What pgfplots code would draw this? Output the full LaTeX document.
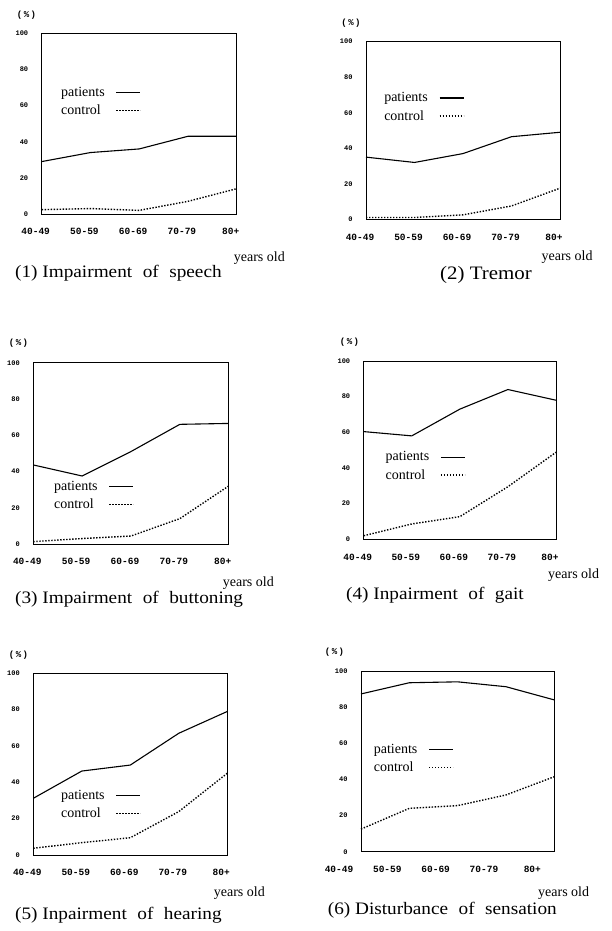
\documentclass[border=0pt]{standalone}
\usepackage{fontspec}
\setmainfont{Liberation Serif}
\newfontfamily\tickfont{Liberation Mono}
\newfontfamily\titlefont[FakeStretch=1.1]{Liberation Serif}
\usepackage{pgfplots}
\pgfplotsset{compat=1.18}

\pgfplotsset{
  legend image code/.code={\draw[#1] (0pt,0pt) -- (24pt,0pt);},
  panel/.style={
    scale only axis, anchor=south west,
    xmin=0, xmax=4, ymin=0, ymax=100,
    xtick={0,...,4}, xticklabels={40-49,50-59,60-69,70-79,80+},
    ytick={0,20,...,100}, yticklabels={0,20,40,60,80,100},
    major tick length=0pt,
    axis line style={line width=0.9pt},
    xticklabel style={font=\tickfont\bfseries\fontsize{9.5}{10}\selectfont,
                      yshift=-11pt, xshift=-6pt},
    yticklabel style={font=\tickfont\bfseries\fontsize{7}{8}\selectfont,
                      xshift=-10pt},
    legend plot pos=right, legend cell align=left,
    legend style={draw=none, fill=none, inner sep=0pt, anchor=north west,
                  font=\fontsize{14}{15}\selectfont,
                  column sep=10pt, row sep=5pt, nodes={inner sep=1pt}},
    clip=false,
  },
  pat/.style={black, line width=1.1pt},
  con/.style={black, line width=1.4pt, dash pattern=on 1.4pt off 1.6pt},
}

\newcommand{\ttl}{\titlefont\fontsize{17.5}{20}\selectfont}
\newcommand{\gap}{\hspace{0.6em}}

\begin{document}
\begin{tikzpicture}
\path[use as bounding box] (0pt,0pt) rectangle (612pt,931pt);

% (1) speech
\begin{axis}[panel, at={(41.7pt,717pt)}, width=195pt, height=180.7pt,
  legend style={at={(0.094,0.71)}}]
\addplot[pat] coordinates {(0,29) (1,34) (2,36) (3,43) (4,43)};
\addplot[con] coordinates {(0,2.4) (1,3) (2,2) (3,7) (4,14)};
\legend{patients,control}
\end{axis}

% (2) tremor
\begin{axis}[panel, at={(366pt,711.7pt)}, width=194pt, height=177.6pt,
  legend style={at={(0.088,0.72)}}]
\addplot[pat] coordinates {(0,35) (1,32) (2,37) (3,46.5) (4,49)};
\addplot[con] coordinates {(0,1) (1,1) (2,2.5) (3,7.5) (4,17.5)};
\legend{patients,control}
\end{axis}

% (3) buttoning
\begin{axis}[panel, at={(33.3pt,387pt)}, width=195.4pt, height=181.3pt,
  legend style={at={(0.10,0.352)}}]
\addplot[pat] coordinates {(0,43.6) (1,37.5) (2,51) (3,66) (4,66.5)};
\addplot[con] coordinates {(0,1.3) (1,3) (2,4.4) (3,14) (4,32)};
\legend{patients,control}
\end{axis}

% (4) gait
\begin{axis}[panel, at={(363.7pt,391.7pt)}, width=192.3pt, height=178.3pt,
  legend style={at={(0.108,0.498)}}]
\addplot[pat] coordinates {(0,60.4) (1,58) (2,73) (3,84) (4,78)};
\addplot[con] coordinates {(0,2) (1,8.6) (2,12.7) (3,29.5) (4,48.8)};
\legend{patients,control}
\end{axis}

% (5) hearing
\begin{axis}[panel, at={(33.3pt,76pt)}, width=194pt, height=181.7pt,
  legend style={at={(0.137,0.362)}}]
\addplot[pat] coordinates {(0,31.2) (1,46.2) (2,49.5) (3,67) (4,79)};
\addplot[con] coordinates {(0,3.7) (1,6.8) (2,9.5) (3,23.9) (4,45)};
\legend{patients,control}
\end{axis}

% (6) sensation
\begin{axis}[panel, at={(361pt,79.3pt)}, width=193.3pt, height=180.7pt,
  legend style={at={(0.06,0.602)}}, xticklabel style={xshift=-16pt}]
\addplot[pat] coordinates {(0,87.3) (1,93.5) (2,94) (3,91.3) (4,84)};
\addplot[con] coordinates {(0,12.5) (1,24) (2,25.5) (3,31.4) (4,41.5)};
\legend{patients,control}
\end{axis}

% unit labels
\foreach \p in {(26.5pt,916pt),(351pt,908pt),(18.5pt,588pt),(349.5pt,589pt),(18.5pt,276pt),(334.5pt,279pt)}
  \node[font=\tickfont\bfseries\fontsize{9}{10}\selectfont, inner sep=0pt] at \p {(\,\%\,)};

% axis captions
\foreach \p in {(285pt,673pt),(592.7pt,674.3pt),(274pt,348.3pt),(599.3pt,356pt),(265pt,38pt),(589.3pt,38.3pt)}
  \node[font=\fontsize{14}{15}\selectfont, anchor=east, inner sep=0pt] at \p {years old};

% titles
\node[anchor=west, inner sep=0pt] at (15pt,658pt) {\ttl (1) Impairment\gap of\gap speech};
\node[anchor=west, inner sep=0pt] at (440pt,656pt) {\ttl\fontsize{19}{21}\selectfont (2) Tremor};
\node[anchor=west, inner sep=0pt] at (15pt,332pt) {\ttl (3) Impairment\gap of\gap buttoning};
\node[anchor=west, inner sep=0pt] at (346pt,336pt) {\ttl (4) Inpairment\gap of\gap gait};
\node[anchor=west, inner sep=0pt] at (15pt,16pt) {\ttl (5) Inpairment\gap of\gap hearing};
\node[anchor=west, inner sep=0pt] at (327.7pt,21pt) {\ttl (6) Disturbance\gap of\gap sensation};
\end{tikzpicture}
\end{document}
